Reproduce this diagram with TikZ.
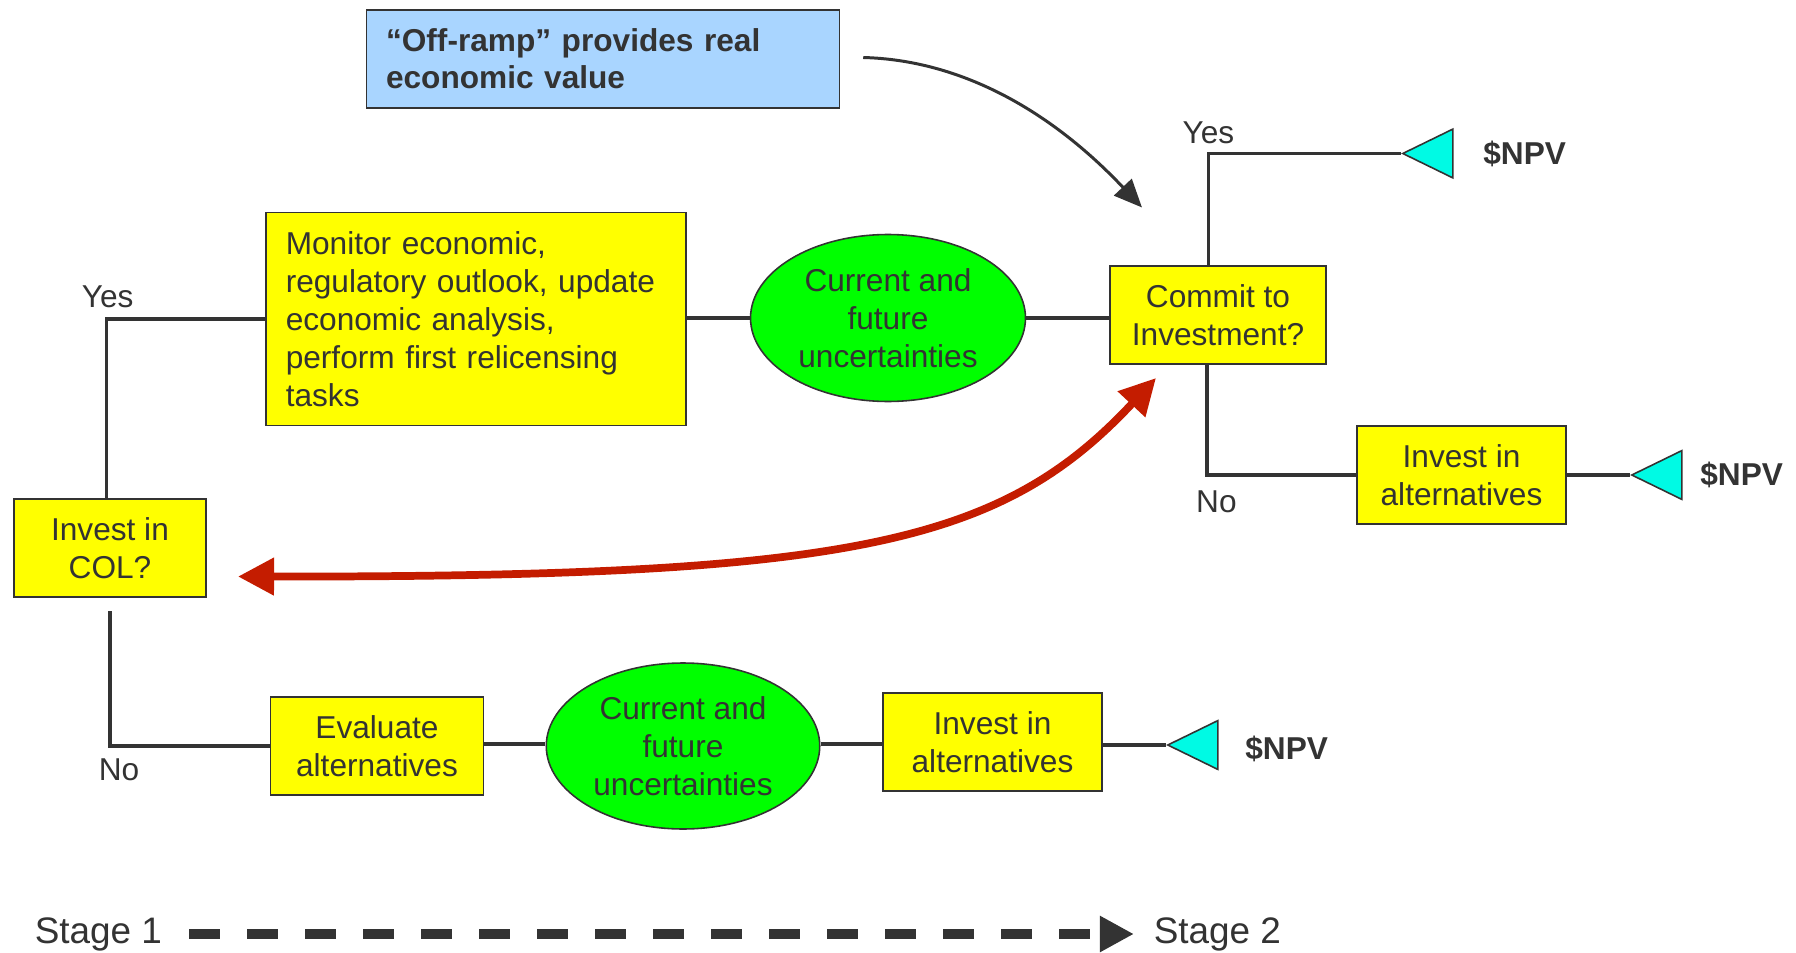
\documentclass[tikz,border=0pt]{standalone}
\usepackage{fontspec}
\setmainfont{Liberation Sans}
\usetikzlibrary{shapes.geometric, arrows.meta}

\definecolor{boxyellow}{HTML}{FFFF00}
\definecolor{uncgreen}{HTML}{00FF00}
\definecolor{rampblue}{HTML}{A9D5FF}
\definecolor{npvcyan}{HTML}{00FAE4}
\definecolor{backred}{HTML}{C41C00}
\definecolor{linegray}{HTML}{333333}

\begin{document}
\begin{tikzpicture}[x=0.02cm, y=-0.02cm,
        every node/.style={text=linegray, font=\fontsize{18}{21.6}\selectfont},
        box/.style={draw=linegray, line width=0.9pt, fill=boxyellow, inner sep=0pt, align=center},
        unc/.style={ellipse, draw=linegray, line width=0.9pt, fill=uncgreen, inner sep=0pt, align=center},
        npv/.style={isosceles triangle, isosceles triangle apex angle=52, shape border rotate=180,
            draw=linegray, line width=0.9pt, fill=npvcyan, inner sep=0pt, minimum height=1.0cm, anchor=apex},
        npvtext/.style={anchor=west, inner sep=0pt, font=\bfseries\fontsize{18}{21.6}\selectfont},
        answer/.style={inner sep=0pt},
        conn/.style={draw=linegray, line width=2pt}]
    \useasboundingbox (0,0) rectangle (1796,953);

    \node[box, fill=rampblue, minimum width=9.46cm, minimum height=1.95cm, text width=8.68cm, align=left,
        font=\bfseries\fontsize{18}{21}\selectfont] at (603,59) (ramp) {“Off-ramp” provides real\\ economic value};

    \node[box, minimum width=3.85cm, minimum height=1.95cm] at (110,548) (col) {Invest in\\ COL?};
    \node[box, minimum width=8.41cm, minimum height=4.26cm, text width=7.61cm, align=left] at (476,319) (monitor) {Monitor economic,\\ regulatory outlook, update\\ economic analysis,\\ perform first relicensing\\ tasks};
    \node[unc, minimum width=5.5cm, minimum height=3.34cm] at (888,318) (unc1) {Current and\\ future\\ uncertainties};
    \node[box, minimum width=4.33cm, minimum height=1.97cm] at (1218,315) (commit) {Commit to\\ Investment?};
    \node[box, minimum width=4.17cm, minimum height=1.95cm] at (1461.5,475) (alt1) {Invest in\\ alternatives};

    \node[box, minimum width=4.26cm, minimum height=1.95cm] at (377,746) (eval) {Evaluate\\ alternatives};
    \node[unc, minimum width=5.47cm, minimum height=3.32cm] at (683,746) (unc2) {Current and\\ future\\ uncertainties};
    \node[box, minimum width=4.38cm, minimum height=1.97cm] at (992.5,742) (alt2) {Invest in\\ alternatives};

    \node[npv] at (1401,153.5) (tri1) {};
    \node[npv] at (1630,475) (tri2) {};
    \node[npv] at (1166,745) (tri3) {};
    \node[npvtext] at (1483,153.5) (npv1) {\$NPV};
    \node[npvtext] at (1700,475) (npv2) {\$NPV};
    \node[npvtext] at (1245,749) (npv3) {\$NPV};

    \node[answer] at (107.7,296.7) (yes1) {Yes};
    \node[answer] at (119.1,769.7) (no1) {No};
    \node[answer] at (1208.4,132.9) (yes2) {Yes};
    \node[answer] at (1216.4,501.7) (no2) {No};

    % upper branch
    \draw[conn] ([xshift=-0.07cm]col.north) |- (monitor.west);
    \draw[conn] (monitor.east |- unc1.west) -- (unc1.west);
    \draw[conn] (unc1.east) -- (unc1.east -| commit.west);
    \draw[conn] ([xshift=-0.19cm]commit.north) |- (tri1.apex);
    \draw[conn] ([xshift=-0.22cm]commit.south) |- (alt1.west);
    \draw[conn] (alt1.east |- tri2.apex) -- (tri2.apex);

    % lower branch
    \draw[conn, shorten <=0.27cm] (col.south) |- (eval.west);
    \draw[conn] (eval.east |- 0,744) -- (unc2.west |- 0,744);
    \draw[conn] (unc2.east |- 0,744) -- (alt2.west |- 0,744);
    \draw[conn] (alt2.east |- tri3.apex) -- (tri3.apex);

    \draw[linegray, line width=1.7pt, -{Triangle[length=0.56cm, width=0.48cm]}]
        ([xshift=0.46cm, yshift=0.03cm]ramp.east) .. controls (960,60) and (1050,110) .. ([xshift=0.66cm, yshift=1.15cm]commit.north west);
    \draw[backred, line width=4.4pt, {Triangle[length=0.72cm, width=0.72cm]}-{Triangle[length=0.72cm, width=0.72cm]}]
        ([xshift=0.62cm, yshift=0.42cm]col.south east) .. controls (850,577) and (1000,545) .. ([xshift=0.94cm, yshift=-0.26cm]commit.south west);

    \node[answer, anchor=west, font=\fontsize{21}{25}\selectfont] at (34.4,934) (stage1) {Stage 1};
    \node[answer, anchor=west, font=\fontsize{21}{25}\selectfont] at (1153.4,934) (stage2) {Stage 2};
    \draw[linegray, line width=0.2cm, dash pattern=on 0.62cm off 0.54cm, shorten <=0.54cm, shorten >=0.39cm,
        -{Triangle[length=0.68cm, width=0.68cm]}] (stage1.east) -- (stage2.west);
\end{tikzpicture}
\end{document}
